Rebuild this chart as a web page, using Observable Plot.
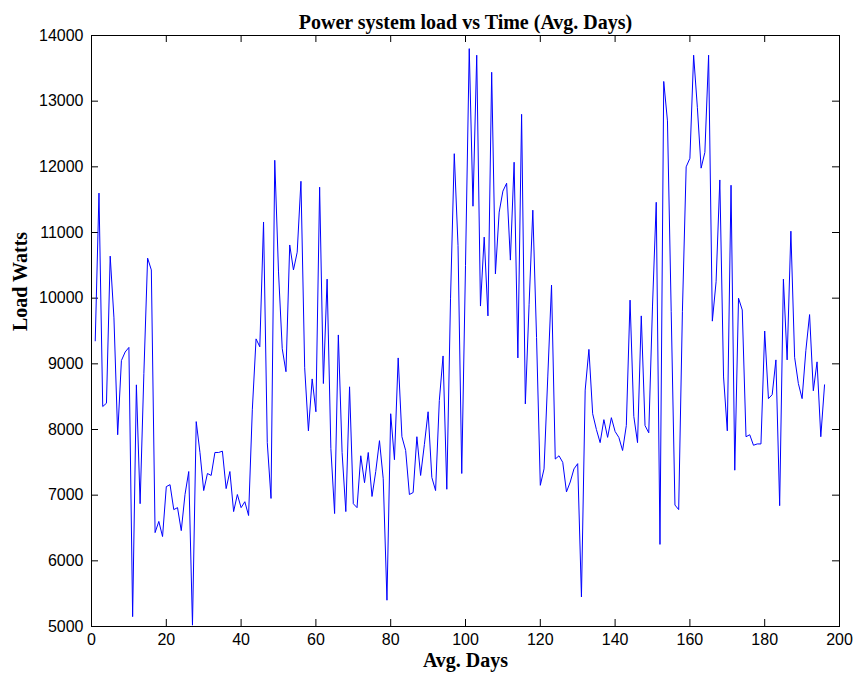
<!DOCTYPE html>
<html>
<head>
<meta charset="utf-8">
<script src="https://cdn.jsdelivr.net/npm/d3@7"></script>
<script src="https://cdn.jsdelivr.net/npm/@observablehq/plot@0.6"></script>
<style>
  html, body { margin: 0; padding: 0; background: #fff; }
</style>
</head>
<body>
<div id="chart"></div>
<script>
const titleText = "Power system load vs Time (Avg. Days)";
const xLabel = "Avg. Days";
const yLabel = "Load Watts";
const xTicks = [0, 20, 40, 60, 80, 100, 120, 140, 160, 180, 200];
const yTicks = [5000, 6000, 7000, 8000, 9000, 10000, 11000, 12000, 13000, 14000];

// Load values for days 1..196
const load = [
  9350, 11600, 8350, 8400, 10640, 9700, 7920, 9050, 9180, 9250,
  5150, 8680, 6870, 8850, 10610, 10430, 6430, 6600, 6370, 7130,
  7160, 6780, 6810, 6460, 7010, 7360, 5020, 8120, 7650, 7070,
  7330, 7300, 7650, 7650, 7670, 7100, 7360, 6750, 7010, 6810,
  6900, 6690, 8300, 9380, 9260, 11160, 7800, 6950, 12100, 10400,
  9230, 8880, 10810, 10430, 10700, 11780, 8940, 7980, 8770, 8270,
  11690, 8700, 10290, 7710, 6720, 9440, 7650, 6750, 8650, 6870,
  6810, 7600, 7190, 7650, 6980, 7360, 7830, 7250, 5400, 8240,
  7540, 9090, 7890, 7680, 7010, 7040, 7890, 7300, 7770, 8270,
  7270, 7070, 8440, 9120, 7090, 10000, 12200, 10800, 7330, 10500,
  13800, 11400, 13700, 9880, 10930, 9730, 13440, 10370, 11310, 11630,
  11750, 10580, 12070, 9090, 12800, 8390, 9900, 11340, 9400, 7150,
  7400, 8800, 10200, 7550, 7600, 7500, 7050, 7200, 7400, 7480,
  5450, 8600, 9220, 8240, 8000, 7800, 8150, 7880, 8180, 7970,
  7880, 7680, 8060, 9970, 8200, 7800, 9730, 8060, 7950, 9880,
  11460, 6250, 13300, 12700, 9800, 6850, 6780, 9800, 12000, 12130,
  13700, 12900, 11980, 12220, 13700, 9650, 10250, 11800, 8800, 7980,
  11720, 7380, 10000, 9820, 7890, 7920, 7760, 7780, 7780, 9500,
  8470, 8530, 9060, 6840, 10290, 9060, 11020, 9100, 8700, 8470,
  9200, 9750, 8590, 9030, 7890, 8680
];
const days = d3.range(1, load.length + 1);
const data = days.map((d, i) => ({day: d, load: load[i]}));

const serif = "'Liberation Serif', 'Times New Roman', serif";
const W = 857, H = 680, ML = 91, MR = 18, MT = 35, MB = 54;
const frameW = W - ML - MR, frameH = H - MT - MB, tickLen = 7;

const chart = Plot.plot({
  width: W,
  height: H,
  marginLeft: ML,
  marginRight: MR,
  marginTop: MT,
  marginBottom: MB,
  style: {fontFamily: "'Liberation Sans', Arial, sans-serif", fontSize: "16px", background: "#fff", color: "#000"},
  x: {domain: [0, 200], ticks: xTicks, label: null},
  y: {domain: [5000, 14000], ticks: yTicks, label: null},
  marks: [
    Plot.axisX({anchor: "bottom", ticks: xTicks, tickSize: 0, tickPadding: 7, label: null, fontSize: 16, tickFormat: d => String(d)}),
    Plot.axisY({anchor: "left", ticks: yTicks, tickSize: 0, tickPadding: 8, label: null, fontSize: 16, tickFormat: d => String(d)}),
    // inward tick marks on all four sides
    Plot.tickX(xTicks, {x: d => d, stroke: "#000", insetTop: frameH - tickLen}),
    Plot.tickX(xTicks, {x: d => d, stroke: "#000", insetBottom: frameH - tickLen}),
    Plot.tickY(yTicks, {y: d => d, stroke: "#000", insetRight: frameW - tickLen}),
    Plot.tickY(yTicks, {y: d => d, stroke: "#000", insetLeft: frameW - tickLen}),
    Plot.line(data, {x: "day", y: "load", stroke: "#0000ff", strokeWidth: 1}),
    Plot.frame({stroke: "#000", strokeWidth: 1}),
    Plot.text([titleText], {frameAnchor: "top", dy: -21, fontWeight: "bold", fontFamily: serif, fontSize: 20, fill: "#000"}),
    Plot.text([xLabel], {frameAnchor: "bottom", dy: 40, fontWeight: "bold", fontFamily: serif, fontSize: 20, fill: "#000"}),
    Plot.text([yLabel], {frameAnchor: "left", dx: -71, rotate: -90, fontWeight: "bold", fontFamily: serif, fontSize: 20, fill: "#000"})
  ]
});
document.getElementById("chart").appendChild(chart);
</script>
</body>
</html>
